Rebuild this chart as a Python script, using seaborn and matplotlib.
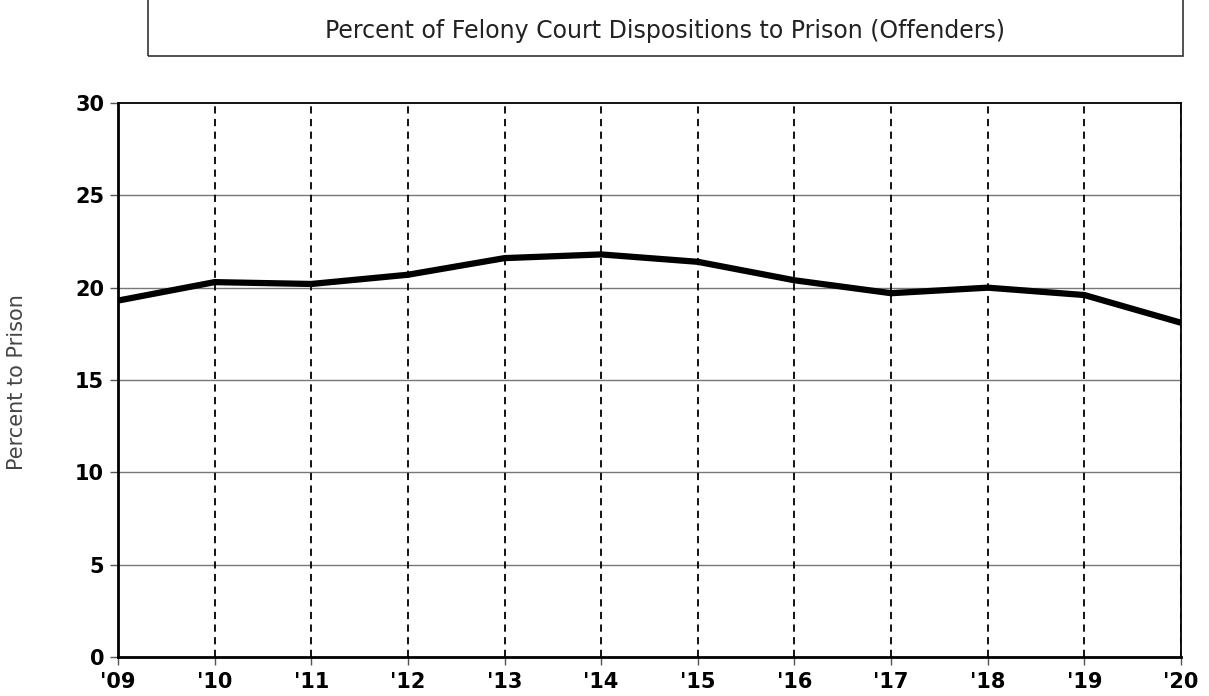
import matplotlib
matplotlib.use("Agg")
import matplotlib.pyplot as plt
import seaborn as sns
import pandas as pd
from matplotlib.patches import Rectangle

years = ["'09", "'10", "'11", "'12", "'13", "'14", "'15", "'16", "'17", "'18", "'19", "'20"]
percent_to_prison = [19.3, 20.3, 20.2, 20.7, 21.6, 21.8, 21.4, 20.4, 19.7, 20.0, 19.6, 18.1]
y_ticks = [0, 5, 10, 15, 20, 25, 30]

sns.set_theme(style="white")
plt.rcParams['font.family'] = ['DejaVu Sans']

df = pd.DataFrame({"pos": range(len(years)), "year": years, "pct": percent_to_prison})

fig = plt.figure(figsize=(12.09, 6.96), dpi=100)
ax = fig.add_axes([118/1209, 1 - 657/696, (1181-118)/1209, (657-103)/696])

sns.lineplot(data=df, x="pos", y="pct", ax=ax, color="black", linewidth=4.5, zorder=5)

ax.set_xlim(0, len(years) - 1)
ax.set_ylim(0, 30)
ax.set_xticks(range(len(years)))
ax.set_xticklabels(years, fontsize=15, fontweight="bold", color="black")
ax.set_yticks(y_ticks)
ax.set_yticklabels([str(t) for t in y_ticks], fontsize=15, fontweight="bold", color="black")
ax.tick_params(axis="both", direction="out", length=6, width=1, color="#555555",
               bottom=True, left=True)
ax.tick_params(axis="y", pad=4)
ax.tick_params(axis="x", pad=5)

for v in y_ticks[1:-1]:
    ax.axhline(v, color="#777777", linewidth=1, zorder=1)
for i in range(1, len(years)):
    ax.axvline(i, color="black", linewidth=1.3, linestyle=(0, (4, 3)), zorder=1)

for s in ax.spines.values():
    s.set_visible(True)
    s.set_color("black")
    s.set_linewidth(1.3)
ax.spines["left"].set_linewidth(2)
ax.spines["bottom"].set_linewidth(2)

ax.set_xlabel("")
ax.set_ylabel("Percent to Prison", fontsize=15, color="#444444")
ax.yaxis.set_label_coords(-0.0856, 0.497)

fig.add_artist(Rectangle((148/1209, 1 - 56/696), (1183-148)/1209, 0.2,
                         transform=fig.transFigure, fill=False, edgecolor="#333333",
                         linewidth=1.2))
fig.text(665/1209, 1 - 31/696, "Percent of Felony Court Dispositions to Prison (Offenders)",
         ha="center", va="center", fontsize=17, color="#222222")

fig.savefig("out.png", dpi=100)
